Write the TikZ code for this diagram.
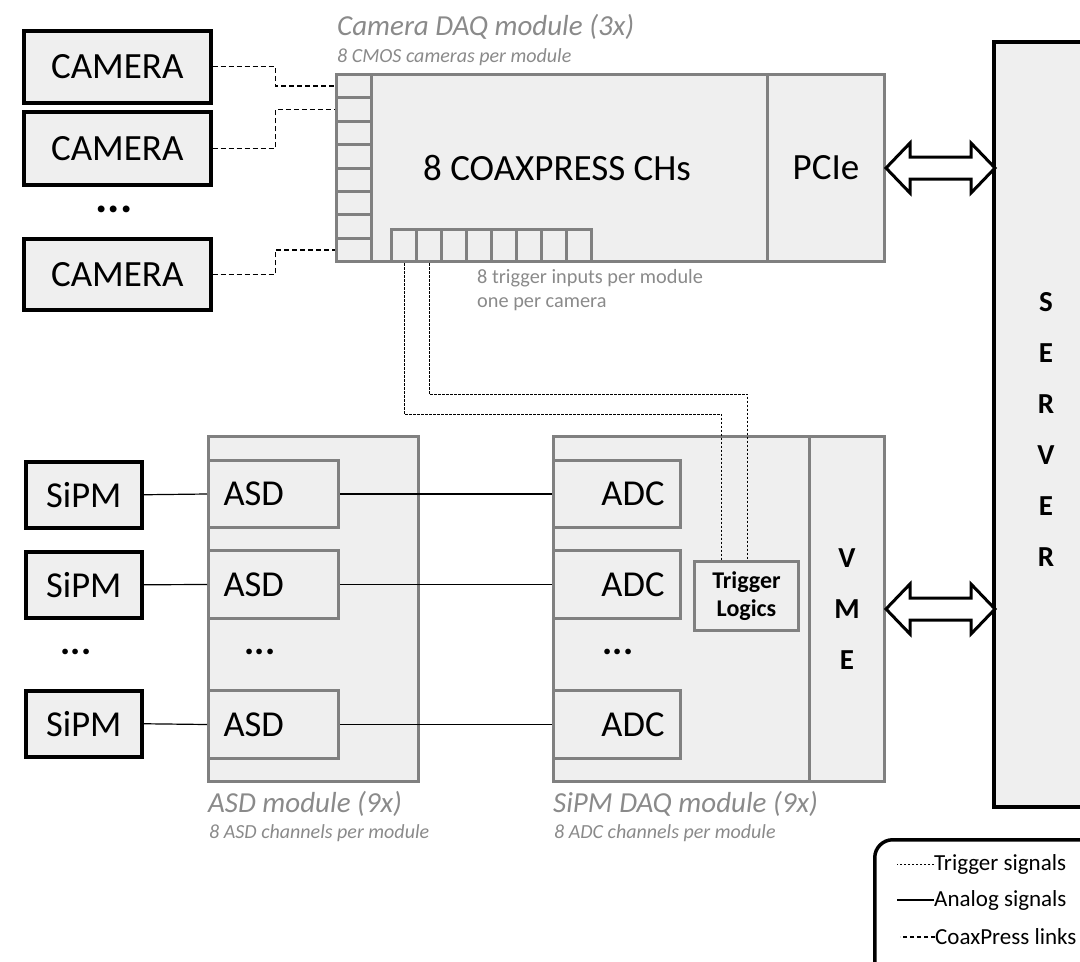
\documentclass[tikz,border=0pt]{standalone}
\usepackage{fontspec}
\setmainfont{Carlito}
\definecolor{gline}{HTML}{808080}
\definecolor{bfill}{HTML}{EFEFEF}
\definecolor{ltext}{HTML}{8A8A8A}
\begin{document}
\begin{tikzpicture}[x=1pt,y=-1pt,
 blk/.style={draw=black, line width=3.5pt, fill=bfill, inner sep=0pt, anchor=north west},
 gry/.style={draw=gline, line width=3pt, fill=bfill, inner sep=0pt, anchor=north west},
 big/.style={font=\fontsize{37}{42}\selectfont},
 mid/.style={font=\fontsize{36.5}{40}\selectfont},
 asdbox/.style={gry, mid, text width=100pt, inner xsep=15pt, align=left},
 adcbox/.style={gry, mid, text width=95pt, inner xsep=16pt, align=right},
 coax/.style={line width=1.4pt, dash pattern=on 5pt off 3pt},
 trig/.style={line width=1pt, dash pattern=on 2.5pt off 1.5pt},
 analog/.style={line width=1.2pt},
 modlbl/.style={font=\fontsize{29}{32}\itshape\selectfont, text=ltext, anchor=base west, inner sep=0pt},
 sublbl/.style={font=\fontsize{20}{22}\itshape\selectfont, text=ltext, anchor=base west, inner sep=0pt},
 notelbl/.style={font=\fontsize{20.3}{22}\selectfont, text=ltext, anchor=base west, inner sep=0pt},
 dots/.style={font=\fontsize{38}{40}\bfseries\selectfont, inner sep=0pt},
 legtxt/.style={font=\fontsize{23}{26}\selectfont, anchor=west, inner sep=0pt},
 dblarrow/.style={draw=black, line width=3pt, fill=white, line join=miter}
]
\clip (0,0) rectangle (1080,962);
\useasboundingbox (0,0) rectangle (1080,962);

% cameras
\node[blk, big, minimum width=187pt, minimum height=72pt] (cam1) at (22,29) {CAMERA};
\node[blk, big, minimum width=187pt, minimum height=73pt] (cam2) at (22,110) {CAMERA};
\node[dots, font=\fontsize{46}{50}\bfseries\selectfont] (camdots) at (114,209) {...};
\node[blk, big, minimum width=187pt, minimum height=71pt] (cam3) at (22,237) {CAMERA};

% camera DAQ module
\node[modlbl] (camlbl) at (337,35) {Camera DAQ module (3x)};
\node[sublbl] (camsub) at (337,62) {8 CMOS cameras per module};
\node[gry, minimum width=548pt, minimum height=187pt] (camdaq) at (335,73) {};
\foreach \i in {0,...,7} {
  \node[gry, minimum width=35pt, minimum height=23.375pt] (p\i) at (335,73+23.375*\i) {};
}
\foreach \i in {0,...,7} {
  \node[gry, minimum width=25pt, minimum height=32pt] (t\i) at (390+25*\i,228) {};
}
\node[gry, big, minimum width=117pt, minimum height=187pt, anchor=north west] (pcie) at (766,73) {PCIe};
\node[big] (coaxch) at (557,168) {8 COAXPRESS CHs};
\node[notelbl] (trignote1) at (477,283) {8 trigger inputs per module};
\node[notelbl] (trignote2) at (477,307) {one per camera};

% camera links
\draw[coax] (cam1.east) -- ++(63,0) |- (p0.west);
\draw[coax] (cam2.east) -- ++(63,0) |- (p1.west);
\draw[coax] (cam3.east) -- ++(63,0) |- (p7.west);

% SiPMs
\node[blk, mid, minimum width=116pt, minimum height=66pt] (sipm1) at (24,460) {SiPM};
\node[blk, mid, minimum width=116pt, minimum height=66pt] (sipm2) at (24,550) {SiPM};
\node[dots] (sipmdots) at (76,652) {...};
\node[blk, mid, minimum width=116pt, minimum height=66pt] (sipm3) at (24,689) {SiPM};

% ASD module
\node[gry, minimum width=210pt, minimum height=345pt] (asdmod) at (207,435) {};
\node[asdbox, minimum height=67pt] (asd1) at (207,459) {ASD};
\node[asdbox, minimum height=68pt] (asd2) at (207,549) {ASD};
\node[dots] (asddots) at (260,652) {...};
\node[asdbox, minimum height=68pt] (asd3) at (207,689) {ASD};
\node[modlbl] (asdlbl) at (208,812) {ASD module (9x)};
\node[sublbl] (asdsub) at (209,838) {8 ASD channels per module};

% SiPM DAQ module
\node[gry, minimum width=331pt, minimum height=345pt] (sipmdaq) at (552,435) {};
\node[gry, font=\fontsize{29}{51}\bfseries\selectfont, align=center, minimum width=75pt, minimum height=345pt] (vme) at (808,435) {V\\M\\E};
\node[adcbox, minimum height=67pt] (adc1) at (552,459) {ADC};
\node[adcbox, minimum height=68pt] (adc2) at (552,549) {ADC};
\node[dots] (adcdots) at (618,652) {...};
\node[adcbox, minimum height=68pt] (adc3) at (552,689) {ADC};
\node[gry, font=\fontsize{24}{28}\bfseries\selectfont, align=center, minimum width=104pt, minimum height=69pt] (tl) at (693,560) {Trigger\\Logics};
\node[modlbl] (sipmlbl) at (553,812) {SiPM DAQ module (9x)};
\node[sublbl] (sipmsub) at (554,838) {8 ADC channels per module};

% analog signals
\draw[analog] (sipm1.east) -- (asd1.west);
\draw[analog] (sipm2.east) -- (asd2.west);
\draw[analog] (sipm3.east) -- (asd3.west);
\draw[analog] (asd1.east) -- (adc1.west);
\draw[analog] (asd2.east) -- (adc2.west);
\draw[analog] (asd3.east) -- (adc3.west);

% trigger signals
\draw[trig] (t0.south) -- ++(0,151) -| ([xshift=-25pt]tl.north);
\draw[trig] (t1.south) -- ++(0,131) -| ([xshift=1pt]tl.north);

% server
\node[blk, minimum width=150pt, minimum height=765pt] (server) at (992,40) {};
\node[font=\fontsize{29}{51}\bfseries\selectfont, align=center] (servertxt) at (1046,429) {S\\E\\R\\V\\E\\R};

% double arrows
\draw[dblarrow] (pcie.east) -- ++(24,-25) -- ++(0,14) -- ++(61,0) -- ++(0,-14) -- ++(24,25) -- ++(-24,25) -- ++(0,-14) -- ++(-61,0) -- ++(0,14) -- cycle;
\draw[dblarrow] (vme.east) -- ++(24,-25) -- ++(0,14) -- ++(61,0) -- ++(0,-14) -- ++(24,25) -- ++(-24,25) -- ++(0,-14) -- ++(-61,0) -- ++(0,14) -- cycle;

% legend
\node[draw=black, line width=3.5pt, rounded corners=18pt, fill=white, minimum width=240pt, minimum height=150pt, anchor=north west] (legend) at (873,838) {};
\node[legtxt] (leg1) at (934,864) {Trigger signals};
\node[legtxt] (leg2) at (934,900) {Analog signals};
\node[legtxt] (leg3) at (935,937) {CoaxPress links};
\draw[trig] (leg1.west) -- ++(-37,0);
\draw[analog] (leg2.west) -- ++(-37,0);
\draw[coax, line width=1.2pt, dash pattern=on 4pt off 3pt] (leg3.west) -- ++(-35,0);
\end{tikzpicture}
\end{document}
